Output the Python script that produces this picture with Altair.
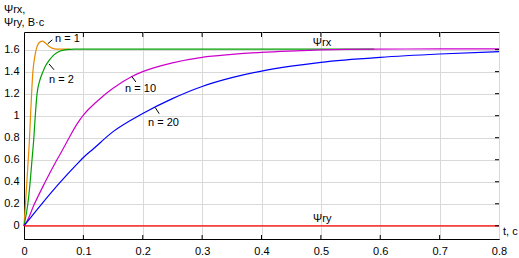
import altair as alt
import pandas as pd

# ---- data ----
t_n1 = [0, 0.0025, 0.006, 0.0093, 0.011, 0.013, 0.015, 0.018, 0.0205, 0.025, 0.0306, 0.036, 0.043, 0.051, 0.06, 0.077]
psi_n1 = [0, 0.2, 0.5, 0.8, 1.0, 1.22, 1.4, 1.53, 1.6, 1.66, 1.677, 1.66, 1.625, 1.607, 1.605, 1.605]

t_n2 = [0, 0.0065, 0.0104, 0.0135, 0.0166, 0.019, 0.022, 0.026, 0.032, 0.037, 0.042, 0.05, 0.06, 0.071, 0.085, 0.59]
psi_n2 = [0, 0.2, 0.4, 0.6, 0.8, 1.0, 1.2, 1.31, 1.4, 1.46, 1.5, 1.55, 1.585, 1.6, 1.605, 1.605]

t_n10 = [0, 0.005, 0.0169, 0.035, 0.055, 0.066, 0.076, 0.09, 0.1, 0.11, 0.12, 0.1357, 0.15, 0.181, 0.2,
         0.25, 0.3, 0.35, 0.4, 0.467, 0.5, 0.586, 0.7, 0.8]
psi_n10 = [0, 0.04, 0.19, 0.39, 0.595, 0.7, 0.8, 0.93, 1.005, 1.065, 1.115, 1.19, 1.25, 1.354, 1.40,
           1.48, 1.53, 1.556, 1.575, 1.59, 1.597, 1.605, 1.606, 1.607]

t_n20 = [0, 0.03, 0.06, 0.09, 0.1, 0.117, 0.15, 0.2, 0.25, 0.3, 0.35, 0.4, 0.45, 0.5, 0.6, 0.7, 0.8]
psi_n20 = [0, 0.2, 0.39, 0.565, 0.62, 0.7, 0.855, 1.02, 1.155, 1.265, 1.345, 1.405, 1.45, 1.485, 1.53, 1.56, 1.582]

t_ry = [0, 0.8]
psi_ry = [0, 0]

series_names = ["n1", "n2", "n10", "n20", "ry"]
series_colors = ["#E68A00", "#00A000", "#CC00CC", "#0000FF", "#FF0000"]

x_ticks = [0, 0.1, 0.2, 0.3, 0.4, 0.5, 0.6, 0.7, 0.8]
y_ticks = [0, 0.2, 0.4, 0.6, 0.8, 1, 1.2, 1.4, 1.6]

# annotation texts (data coordinates)
ann_text = ["n = 1", "n = 2", "n = 10", "n = 20", "Ψrx", "Ψry"]
ann_t = [0.0523, 0.0422, 0.1703, 0.209, 0.4865, 0.4868]
ann_v = [1.698, 1.326, 1.245, 0.937, 1.662, 0.066]

lead_t1 = [0.040, 0.0422, 0.1816, 0.2209]
lead_v1 = [1.653, 1.470, 1.356, 1.075]
lead_t2 = [0.0477, 0.0506, 0.1884, 0.2277]
lead_v2 = [1.689, 1.417, 1.306, 1.018]

# ---- build tables ----
rows = []
for name, ts, vs in [("n1", t_n1, psi_n1), ("n2", t_n2, psi_n2), ("n10", t_n10, psi_n10),
                     ("n20", t_n20, psi_n20), ("ry", t_ry, psi_ry)]:
    for i, (a, b) in enumerate(zip(ts, vs)):
        rows.append({"t": a, "psi": b, "series": name, "order": i})
df = pd.DataFrame(rows)

ann_df = pd.DataFrame({"t": ann_t, "psi": ann_v, "label": ann_text})
lead_df = pd.DataFrame({"t": lead_t1, "psi": lead_v1, "t2": lead_t2, "psi2": lead_v2})
xt_df = pd.DataFrame({"t": x_ticks[1:-1]})
yt_df = pd.DataFrame({"psi": y_ticks})

W, H = 475, 207
FONT = "Liberation Sans"

xscale = alt.Scale(domain=[0, 0.8], nice=False, zero=False)
yscale = alt.Scale(domain=[-0.12, 1.76], nice=False, zero=False)
xaxis = alt.Axis(values=x_ticks, format="~g", title=None, tickSize=0, labelPadding=6,
                 grid=True, labelFlush=False, labelOverlap=False)
yaxis = alt.Axis(values=y_ticks, format="~g", title=None, tickSize=0, labelPadding=5,
                 grid=True, labelFlush=False, labelOverlap=False)

X = alt.X("t:Q", scale=xscale, axis=xaxis)
Y = alt.Y("psi:Q", scale=yscale, axis=yaxis)

lines = alt.Chart(df).mark_line(strokeWidth=1.2, interpolate="monotone").encode(
    x=X,
    y=Y,
    color=alt.Color("series:N", scale=alt.Scale(domain=series_names, range=series_colors), legend=None),
    order="order:Q",
    detail="series:N",
)

top_ticks = alt.Chart(xt_df).mark_rule(color="black", strokeWidth=1).encode(
    x=X, y=alt.value(0), y2=alt.value(5))
bot_ticks = alt.Chart(xt_df).mark_rule(color="black", strokeWidth=1).encode(
    x=X, y=alt.value(H - 4), y2=alt.value(H))
right_ticks = alt.Chart(yt_df).mark_rule(color="black", strokeWidth=1).encode(
    y=Y, x=alt.value(W - 4), x2=alt.value(W))

leads = alt.Chart(lead_df).mark_rule(color="black", strokeWidth=1).encode(
    x=X, y=Y, x2="t2:Q", y2="psi2:Q")

anns = alt.Chart(ann_df).mark_text(align="left", baseline="middle", font=FONT, fontSize=11,
                                   color="black").encode(x=X, y=Y, text="label:N")

def pix_text(label, px, py):
    return alt.Chart(pd.DataFrame({"label": [label]})).mark_text(
        align="left", baseline="middle", font=FONT, fontSize=11, color="black"
    ).encode(x=alt.value(px), y=alt.value(py), text="label:N")

titles = [pix_text("Ψrx,", -20, -22), pix_text("Ψry, В·с", -20, -9), pix_text("t, с", 479, 200)]

chart = alt.layer(lines, top_ticks, bot_ticks, right_ticks, leads, anns, *titles).properties(
    width=W, height=H,
    autosize=alt.AutoSizeParams(type="none"),
    padding={"left": 24, "top": 32, "right": 20, "bottom": 19},
    background="white",
).configure_view(stroke="black", strokeWidth=1).configure_axis(
    domainColor="black", domainWidth=1, gridColor="#d9d9d9", gridWidth=1,
    labelFont=FONT, labelFontSize=11, labelColor="black",
)

chart.save("out.html", embed_options={"renderer": "svg", "actions": False})
